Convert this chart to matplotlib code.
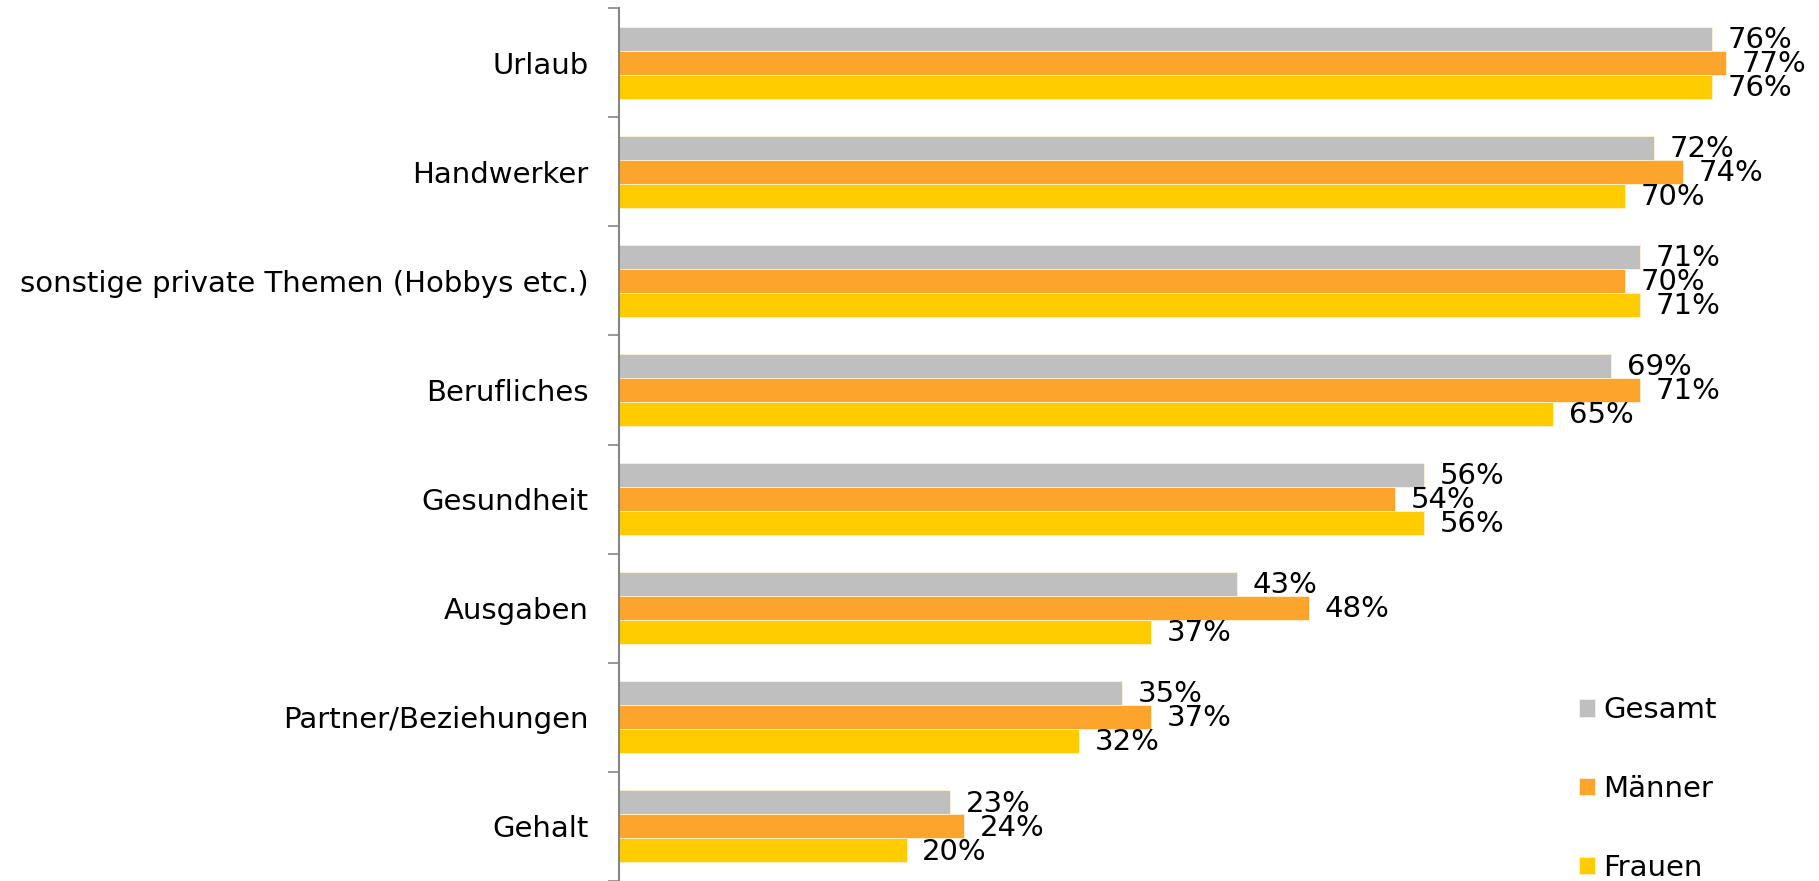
import numpy as np
import matplotlib.pyplot as plt
from matplotlib.ticker import FixedLocator

# data
categories = ['Urlaub', 'Handwerker', 'sonstige private Themen (Hobbys etc.)',
              'Berufliches', 'Gesundheit', 'Ausgaben', 'Partner/Beziehungen', 'Gehalt']
gesamt = [76, 72, 71, 69, 56, 43, 35, 23]
maenner = [77, 74, 70, 71, 54, 48, 37, 24]
frauen = [76, 70, 71, 65, 56, 37, 32, 20]
series_names = ['Gesamt', 'Männer', 'Frauen']
colors = ['#BFBFBF', '#FCA42B', '#FFCC00']

plt.rcParams['font.family'] = ['DejaVu Sans']
fig = plt.figure(figsize=(18.19, 8.81), dpi=100)
ax = fig.add_axes([619/1819, 0.0, 1 - 619/1819 - 50/1819, 873/881])

n = len(categories)
y = np.arange(n)
h = 0.22
offsets = [-h, 0, h]
for vals, off, col, name in zip([gesamt, maenner, frauen], offsets, colors, series_names):
    bars = ax.barh(y + off, vals, height=h, color=col, edgecolor='#FFF2D0',
                   linewidth=0.6, label=name)
    for b, v in zip(bars, vals):
        ax.text(b.get_width() + 1.1, b.get_y() + b.get_height()/2 + 0.01, f'{v}%',
                va='center', ha='left', fontsize=21, color='black', clip_on=False)

ax.set_ylim(n - 0.5, -0.5)
ax.set_xlim(0, 80)
ax.set_yticks(y)
ax.set_yticklabels(categories, fontsize=21)
ax.yaxis.set_minor_locator(FixedLocator(np.arange(-0.5, n, 1.0)))
ax.tick_params(axis='y', which='major', length=0, pad=22)
ax.tick_params(axis='y', which='minor', length=8, width=1.2, color='#868686')
ax.set_xticks([])
for s in ['top', 'right', 'bottom']:
    ax.spines[s].set_visible(False)
ax.spines['left'].set_color('#868686')
ax.spines['left'].set_linewidth(1.5)

leg = ax.legend(loc='lower left', bbox_to_anchor=(1567/1819, -0.014), bbox_transform=fig.transFigure,
                frameon=False, fontsize=21, handlelength=0.55, handleheight=0.55,
                handletextpad=0.3, labelspacing=1.74, borderaxespad=0)

fig.savefig('out.png', dpi=100)
